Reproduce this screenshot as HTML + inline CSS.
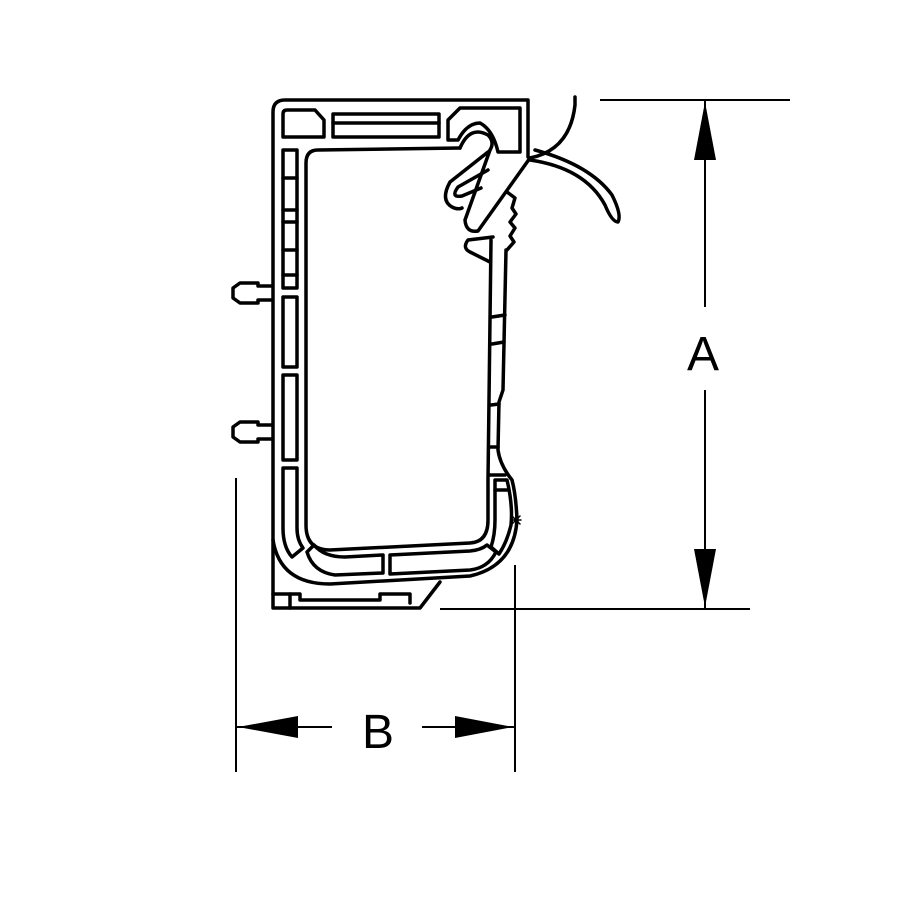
<!DOCTYPE html>
<html><head><meta charset="utf-8"><style>
html,body{margin:0;padding:0;background:#fff;}
svg{display:block;}
</style></head><body>
<svg width="900" height="900" viewBox="0 0 900 900" xmlns="http://www.w3.org/2000/svg">
<g fill="none" stroke="#000" stroke-width="3.5" stroke-linejoin="round" stroke-linecap="round">
<!-- outer frame -->
<path d="M528,157 L528,100 L285,100 Q273,100 273,112 L273,540 Q280,584 330,584 L470,576 Q514,566 517,520 Q516,495 512,480 Q500,465 498,450 L499,402 L503,390 L506,250"/>
<!-- inner opening -->
<path d="M460,148 L318,150 Q306,150 306,163 L306,525 Q306,550 330,550 L470,543 Q488,542 488,520 L488,480 L491,240"/>
<!-- right wall segment lines -->
<line x1="492" y1="317" x2="505" y2="315"/>
<line x1="492" y1="344" x2="504" y2="342"/>
<line x1="491" y1="405" x2="499" y2="404"/>
<line x1="490" y1="447" x2="498" y2="447"/>
<line x1="490" y1="475" x2="505" y2="475"/>
<!-- bottom channel pieces -->
<path d="M283,468 L297,468 L297,528 Q297,540 303,548 L292,557 Q283,547 283,528 Z"/>
<path d="M307,552 L314,545 Q324,557 345,557 L383,555 L383,573 L335,575 Q313,572 307,552 Z"/>
<path d="M390,555 L470,551 Q481,550 487,545 L496,552 Q488,568 470,570 L390,574 Z"/>
<path d="M491,547 Q495,535 495,520 L495,480 L507,480 Q513,505 511,525 Q507,542 499,554 Z"/>
<line x1="495" y1="490" x2="507" y2="490"/>
<!-- left channel boxes -->
<rect x="283" y="150" width="14" height="138"/>
<line x1="283" y1="178" x2="297" y2="178"/>
<line x1="283" y1="210" x2="297" y2="210"/>
<line x1="283" y1="222" x2="297" y2="222"/>
<line x1="283" y1="250" x2="297" y2="250"/>
<line x1="283" y1="275" x2="297" y2="275"/>
<rect x="283" y="297" width="14" height="70"/>
<rect x="283" y="375" width="14" height="85"/>
<!-- top boxes -->
<path d="M287,110 L315,110 L324,120 L324,137 L283,137 L283,114 Q283,110 287,110 Z"/>
<rect x="333" y="114" width="106" height="23"/>
<line x1="333" y1="123" x2="439" y2="123"/>
<path d="M460,108 L520,108 L520,152 L498,152 Q493,130 480,123 Q467,123 458,140 L448,140 L448,120 Z"/>
<!-- latch bar -->
<path d="M490,150 L465,220 Q466,233 478,231 L530,158"/>
<path d="M460,148 Q470,125 488,135 Q495,142 490,150"/>
<!-- spring loop -->
<path d="M488,152 L450,182 Q440,200 452,207 Q458,210 462,208"/>
<path d="M488,170 L458,187 Q450,198 462,196 L481,188"/>
<!-- lower tab -->
<path d="M493,237 L468,240 Q462,248 470,252 L490,262"/>
<!-- stem teeth -->
<path d="M507,192 L515,198 L512,208 L516,214 L510,222 L515,228 L510,236 L514,242 L507,250"/>
<!-- strap -->
<path d="M575,97 L575,105 Q570,150 530,158"/>
<path d="M530,160 Q585,168 605,205 Q612,222 618,222 Q622,215 612,195 Q590,165 535,150"/>
<!-- base -->
<path d="M273,540 L273,608 L420,608 L440,582"/>
<path d="M273,594 L300,594 L300,600 L380,600 L380,594 L410,594 L410,603"/>
<line x1="290" y1="594" x2="290" y2="608"/>
<!-- pegs -->
<path d="M272,286 L258,286 L258,283 L240,283 L233,288 L233,298 L240,303 L258,303 L258,300 L272,300"/>
<path d="M272,425 L258,425 L258,422 L240,422 L233,427 L233,437 L240,442 L258,442 L258,439 L272,439"/>
<!-- asterisk -->
<path d="M511,520 L521,520 M516,515 L516,525 M512,516 L520,524 M520,516 L512,524" stroke-width="1.5"/>
</g>
<!-- dimensions -->
<g stroke="#000" stroke-width="2" fill="none">
<line x1="600" y1="100" x2="790" y2="100"/>
<line x1="440" y1="609" x2="750" y2="609"/>
<line x1="705" y1="100" x2="705" y2="307"/>
<line x1="705" y1="390" x2="705" y2="609"/>
<line x1="236" y1="478" x2="236" y2="772"/>
<line x1="515" y1="565" x2="515" y2="772"/>
<line x1="236" y1="727" x2="332" y2="727"/>
<line x1="422" y1="727" x2="515" y2="727"/>
</g>
<g fill="#000">
<polygon points="705,102 694,160 716,160"/>
<polygon points="705,607 694,549 716,549"/>
<polygon points="238,727 298,716 298,738"/>
<polygon points="513,727 455,716 455,738"/>
</g>
<text x="703" y="370" font-family="Liberation Sans, sans-serif" font-size="48" text-anchor="middle">A</text>
<text x="378" y="748" font-family="Liberation Sans, sans-serif" font-size="48" text-anchor="middle">B</text>
</svg>
</body></html>
